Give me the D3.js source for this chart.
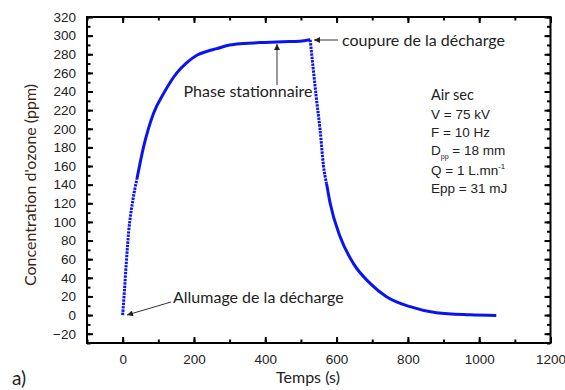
<!DOCTYPE html>
<html><head><meta charset="utf-8">
<script src="https://cdn.jsdelivr.net/npm/d3@7"></script>
<style>body{margin:0;background:#fff}</style></head>
<body><svg id="c" width="565" height="390"></svg>
<script>
// ---- data ----
const timeS    = [0, 5, 10, 17, 28, 40, 59, 87, 115, 152, 180, 208, 240, 264, 300, 320, 385, 450, 497, 526, 533, 543, 554, 563, 572, 582, 610, 647, 694, 740, 806, 880, 974, 1048];
const ozonePpm = [0, 26, 55, 90, 122, 146, 181, 217, 238, 260, 271, 279, 283.5, 286, 290, 291, 292.5, 293.5, 294, 295.5, 270, 234, 198, 161, 141, 120, 84, 55.5, 34, 19.7, 9, 2.5, 0.3, -0.5];
const xTicks = [0, 200, 400, 600, 800, 1000, 1200];
const yTicks = [-20, 0, 20, 40, 60, 80, 100, 120, 140, 160, 180, 200, 220, 240, 260, 280, 300, 320];
const xDomain = [-100, 1200];
const yDomain = [-30, 320];
const paramLines = ["Air sec", "V = 75 kV", "F = 10 Hz", "D|pp| = 18 mm", "Q = 1 L.mn^-1", "Epp = 31 mJ"];

const svg = d3.select("#c");
const L = 87, R = 550.5, T = 17, B = 343;
const x = d3.scaleLinear().domain(xDomain).range([L, R]);
const y = d3.scaleLinear().domain(yDomain).range([B, T]);
const sans = "'Liberation Sans', Arial, sans-serif";
const cal = "Lato, 'Open Sans', sans-serif";

const data = timeS.map((t, i) => ({t, v: ozonePpm[i]}));
const line = d3.line().x(d => x(d.t)).y(d => y(d.v)).curve(d3.curveMonotoneX);
const seg = (a, b) => data.filter(d => d.t >= a && d.t <= b);
const blue = "#0a14f0";
[[0, 40, true], [40, 526, false], [526, 572, true], [572, 2000, false]].forEach(([a, b, dotted]) => {
  svg.append("path").attr("d", line(seg(a, b)))
    .attr("fill", "none").attr("stroke", blue)
    .attr("stroke-width", 3)
    .attr("stroke-dasharray", dotted ? "2.4,1" : null);
});

// axes with inward ticks
const xMinor = d3.range(-100, 1201, 100);
const yMinor = d3.range(-30, 321, 10);
function axis(gen, tr, ticks, minor, labels) {
  const g = svg.append("g").attr("transform", tr);
  g.call(gen.tickValues(minor).tickSize(-3.5).tickFormat(""));
  g.selectAll(".domain").remove();
  const g2 = svg.append("g").attr("transform", tr);
  g2.call(gen.tickValues(ticks).tickSize(-6).tickPadding(labels ? 11 : 0).tickFormat(labels ? d3.format("d") : ""));
  g2.selectAll(".domain").remove();
  [g, g2].forEach(gg => gg.selectAll("line").attr("stroke", "#000").attr("stroke-width", 2));
  g2.selectAll("text").attr("font-family", sans).attr("font-size", 13.5).attr("fill", "#222");
  return g2;
}
axis(d3.axisBottom(x), `translate(0,${B})`, xTicks, xMinor, true);
axis(d3.axisTop(x), `translate(0,${T})`, xTicks, xMinor, false);
axis(d3.axisLeft(y), `translate(${L},0)`, yTicks, yMinor, true);
axis(d3.axisRight(y), `translate(${R},0)`, yTicks, yMinor, false);
svg.append("rect").attr("x", L).attr("y", T).attr("width", R - L).attr("height", B - T)
  .attr("fill", "none").attr("stroke", "#000").attr("stroke-width", 2);

// axis titles
svg.append("text").attr("x", 308).attr("y", 383).attr("text-anchor", "middle")
  .attr("font-family", cal).attr("font-size", 16).attr("fill", "#222").text("Temps (s)");
svg.append("text").attr("transform", "translate(36,185) rotate(-90)").attr("text-anchor", "middle")
  .attr("font-family", cal).attr("font-size", 16).attr("fill", "#3a2816").text("Concentration d'ozone (ppm)");
svg.append("text").attr("x", 12).attr("y", 385).attr("font-family", cal).attr("font-size", 19).attr("fill", "#222").text("a)");

// arrows
svg.append("defs").append("marker").attr("id", "ah").attr("viewBox", "0 0 10 10").attr("refX", 10).attr("refY", 5)
  .attr("markerWidth", 8).attr("markerHeight", 6).attr("markerUnits", "userSpaceOnUse").attr("orient", "auto")
  .append("path").attr("d", "M0,0L10,5L0,10z").attr("fill", "#222");
function arrow(x1, y1, x2, y2) {
  svg.append("line").attr("x1", x1).attr("y1", y1).attr("x2", x2).attr("y2", y2)
    .attr("stroke", "#333").attr("stroke-width", 1).attr("marker-end", "url(#ah)");
}
arrow(338, 40, 314, 40);
arrow(277, 85, 277, 44);
arrow(171, 302, 127, 315);

const ann = (tx, ty, s, anchor) => svg.append("text").attr("x", tx).attr("y", ty).attr("text-anchor", anchor || "start")
  .attr("font-family", cal).attr("font-size", 16).attr("fill", "#222").text(s);
ann(342, 46, "coupure de la décharge");
ann(248, 97, "Phase stationnaire", "middle");
ann(173, 303, "Allumage de la décharge");

// parameter block
const py = [100, 119, 137, 155, 175, 193];
paramLines.forEach((s, i) => {
  const t = svg.append("text").attr("x", 431).attr("y", py[i]).attr("font-family", i === 0 ? cal : sans)
    .attr("font-size", i === 0 ? 14.5 : 13.5).attr("fill", "#222");
  if (s.includes("|")) {
    const p = s.split("|");
    t.append("tspan").text(p[0]);
    t.append("tspan").attr("font-size", 7).attr("dy", 4).text(p[1]);
    t.append("tspan").attr("dy", -4).text(p[2]);
  } else if (s.includes("^")) {
    const p = s.split("^");
    t.append("tspan").text(p[0]);
    t.append("tspan").attr("font-size", 8).attr("dy", -6).text(p[1]);
  } else t.text(s);
});
</script></body></html>
